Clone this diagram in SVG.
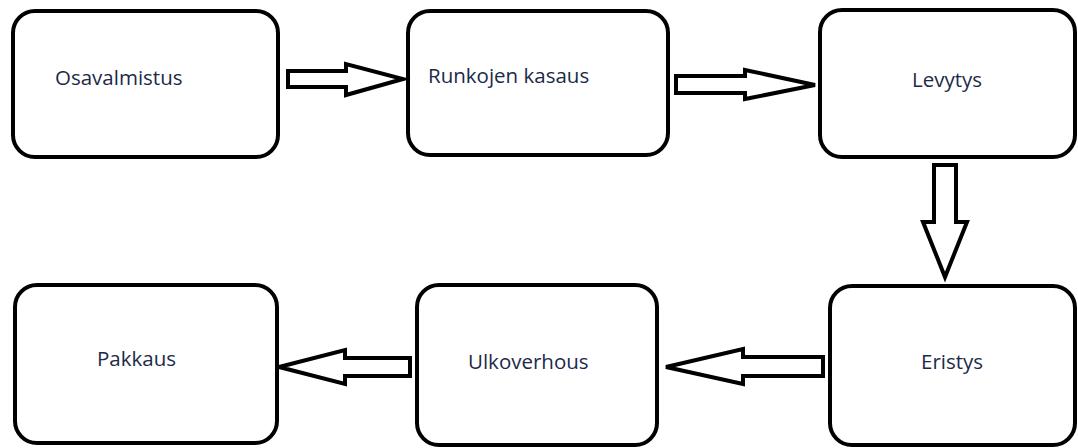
<svg xmlns="http://www.w3.org/2000/svg" width="1078" height="448" viewBox="0 0 1078 448">
<style>
.box{fill:#fff;stroke:#000;stroke-width:4}
.lbl{font-family:"Open Sans","Noto Sans",sans-serif;font-size:20.5px;fill:#1c2a48}
.arr{fill:#fff;stroke:#000;stroke-width:4;stroke-linejoin:miter}
</style>
<rect width="1078" height="448" fill="#fff"/>
<g id="n1"><rect class="box" x="13" y="11" width="265" height="146" rx="22"/><text class="lbl" x="55" y="85">Osavalmistus</text></g>
<g id="n2"><rect class="box" x="408" y="11" width="260" height="144" rx="22"/><text class="lbl" x="428" y="83">Runkojen kasaus</text></g>
<g id="n3"><rect class="box" x="820" y="10" width="255" height="147" rx="22"/><text class="lbl" x="912" y="87">Levytys</text></g>
<g id="n4"><rect class="box" x="830" y="286" width="245" height="159" rx="22"/><text class="lbl" x="921" y="369">Eristys</text></g>
<g id="n5"><rect class="box" x="15" y="285" width="262" height="158" rx="22"/><text class="lbl" x="97" y="366">Pakkaus</text></g>
<g id="n6"><rect class="box" x="417" y="285" width="240" height="160" rx="22"/><text class="lbl" x="468" y="369">Ulkoverhous</text></g>
<g id="connectors">
<polygon class="arr" points="288,71 346,71 346,64 403,79 346,95 346,87 288,87"/>
<polygon class="arr" points="676,76 745,76 745,70 815,85 745,99 745,93 676,93"/>
<polygon class="arr" points="934,165 956,165 956,222 967,222 945,277 923,222 934,222"/>
<polygon class="arr" points="823,357 823,376 743,376 743,384 666,367 743,349 743,357"/>
<polygon class="arr" points="410,358 410,376 345,376 345,384 279,367 345,350 345,358"/>
</g>
</svg>
